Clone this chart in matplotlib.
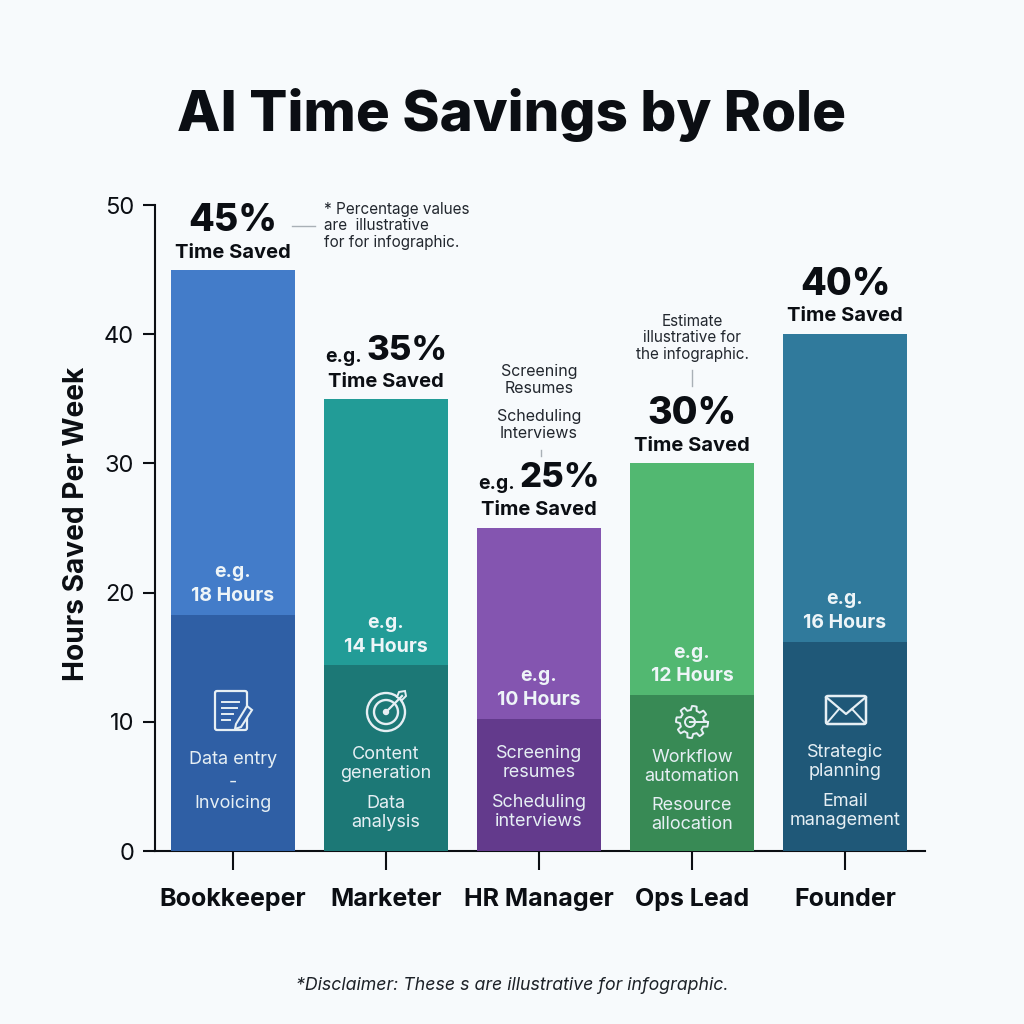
import numpy as np
import matplotlib
matplotlib.use("Agg")
import matplotlib.pyplot as plt
from matplotlib.patches import Circle, FancyBboxPatch, Polygon

# Data
roles = ["Bookkeeper", "Marketer", "HR Manager", "Ops Lead", "Founder"]
percent_saved = [45, 35, 25, 30, 40]
hours_saved = [18.3, 14.4, 10.2, 12.1, 16.2]
percent_labels = ["45%", "35%", "25%", "30%", "40%"]
hour_labels = ["18 Hours", "14 Hours", "10 Hours", "12 Hours", "16 Hours"]
tasks = [
    ["Data entry", "-", "Invoicing"],
    ["Content\ngeneration", "Data\nanalysis"],
    ["Screening\nresumes", "Scheduling\ninterviews"],
    ["Workflow\nautomation", "Resource\nallocation"],
    ["Strategic\nplanning", "Email\nmanagement"],
]
light_colors = ["#437cc9", "#229c97", "#8455b0", "#52b871", "#307a9c"]
dark_colors = ["#2f5fa5", "#1c7876", "#633a8c", "#388a55", "#1f5878"]
bg = "#f7fafc"
ink = "#0b0e13"
font = "Inter"

plt.rcParams["font.family"] = [font, "DejaVu Sans"]

fig = plt.figure(figsize=(10.24, 10.24), dpi=100, facecolor=bg)

# main axes placed on the pixel box of the reference
ax = fig.add_axes([155 / 1024, 1 - 851 / 1024, 770 / 1024, 646 / 1024], facecolor="none")
x = np.arange(len(roles))
bar_w = 124 / 153
ax.bar(x, percent_saved, width=bar_w, color=light_colors, linewidth=0, zorder=2)
ax.bar(x, hours_saved, width=bar_w, color=dark_colors, linewidth=0, zorder=3)
ax.set_xlim(-78 / 153, 692 / 153)
ax.set_ylim(0, 50)
ax.set_yticks([0, 10, 20, 30, 40, 50])
ax.set_xticks(x)
ax.set_xticklabels(roles, fontsize=18, fontweight="bold", color=ink, va="baseline")
ax.tick_params(axis="x", length=13.5, width=1.5, color=ink, direction="out", pad=26)
ax.tick_params(axis="y", length=8.6, width=1.5, color=ink, labelsize=17, labelcolor=ink, pad=6.5)
ax.spines["top"].set_visible(False)
ax.spines["right"].set_visible(False)
ax.spines["left"].set_linewidth(1.5)
ax.spines["bottom"].set_linewidth(1.5)
ax.spines["left"].set_color(ink)
ax.spines["bottom"].set_color(ink)
ax.set_ylabel("Hours Saved Per Week", fontsize=20.2, fontweight="bold", color=ink)
ax.yaxis.set_label_coords(-65 / 770, 0.506)

# overlay in reference pixels for the annotations and icons
ov = fig.add_axes([0, 0, 1, 1], facecolor="none", zorder=5)
ov.set_xlim(0, 1024)
ov.set_ylim(1024, 0)
ov.axis("off")

ov.text(512, 115, "AI Time Savings by Role", fontsize=40.7, fontweight="heavy", color=ink, ha="center", va="center")

centers = [233, 386, 539, 692, 845]
pct_y = [221, 351, 478, 414, 285]
sub_y = [253, 382, 510, 446, 316]
eg_prefix = [False, True, True, False, False]
for i, c in enumerate(centers):
    if eg_prefix[i]:
        ov.text(c + 21, pct_y[i], percent_labels[i], fontsize=25, fontweight="heavy", color=ink, ha="center", va="center")
        ov.text(c - 42, pct_y[i] + 6, "e.g.", fontsize=14, fontweight="bold", color=ink, ha="center", va="center")
    else:
        ov.text(c, pct_y[i], percent_labels[i], fontsize=27, fontweight="heavy", color=ink, ha="center", va="center")
    ov.text(c, sub_y[i], "Time Saved", fontsize=14.5, fontweight="bold", color=ink, ha="center", va="center")

eg_y = [572, 623, 676, 653, 599]
hr_y = [596, 647, 700, 676, 623]
for i, c in enumerate(centers):
    ov.text(c, eg_y[i], "e.g.", fontsize=14, fontweight="bold", color="#eef5f8", ha="center", va="center")
    ov.text(c, hr_y[i], hour_labels[i], fontsize=14, fontweight="bold", color="#eef5f8", ha="center", va="center")

# task text inside the dark part of each bar
task_y = [[760, 782, 803], [764, 813], [763, 812], [767, 815], [762, 811]]
for i, c in enumerate(centers):
    for t, y in zip(tasks[i], task_y[i]):
        ov.text(c, y, t, fontsize=13, color="#e6eff4", ha="center", va="center", linespacing=1.2)

# side notes
ov.text(324, 226, "* Percentage values\nare  illustrative\nfor for infographic.", fontsize=11, color="#22272e", ha="left", va="center", linespacing=1.15)
ov.plot([292, 315], [226, 226], color="#a9b0b6", lw=1)
ov.text(539, 380, "Screening\nResumes", fontsize=11.5, color="#22272e", ha="center", va="center", linespacing=1.15)
ov.text(539, 425, "Scheduling\nInterviews", fontsize=11.5, color="#22272e", ha="center", va="center", linespacing=1.15)
ov.plot([541, 541], [450, 456], color="#a9b0b6", lw=1)
ov.text(692, 338, "Estimate\nillustrative for\nthe infographic.", fontsize=11, color="#22272e", ha="center", va="center", linespacing=1.15)
ov.plot([692, 692], [370, 386], color="#a9b0b6", lw=1)

ov.text(512, 985, "*Disclaimer: These s are illustrative for infographic.", fontsize=12.75, style="italic", color="#1c2127", ha="center", va="center")

# icons
w = "#e6eff4"
# document with pencil
ov.add_patch(FancyBboxPatch((215, 691), 32, 39, boxstyle="round,pad=0,rounding_size=2", fc="none", ec=w, lw=1.6))
for yy, x0, x1 in [(702, 222, 239), (708, 222, 237), (714, 222, 233), (720, 222, 230)]:
    ov.plot([x0, x1], [yy, yy], color=w, lw=1.4)
ov.add_patch(Polygon([(236, 724), (247, 706), (252, 710), (241, 727), (235, 729)], closed=True, fc=dark_colors[0], ec=w, lw=1.5))
# target with arrow
for r in [19, 12]:
    ov.add_patch(Circle((386, 712), r, fc="none", ec=w, lw=1.7))
ov.add_patch(Circle((386, 712), 2.5, fc=w, ec=w, lw=1))
ov.plot([386, 402], [712, 696], color=w, lw=1.6)
ov.add_patch(Polygon([(399, 692), (405, 691), (406, 696), (402, 700), (397, 697)], closed=True, fc=dark_colors[1], ec=w, lw=1.4))
# gear
angles = np.linspace(0, 2 * np.pi, 65)
radii = np.where((np.arange(65) % 8) < 4, 16, 12)
ov.plot(692 + radii * np.cos(angles), 722 + radii * np.sin(angles), color=w, lw=1.4)
ov.add_patch(Circle((690, 722), 5, fc="none", ec=w, lw=1.4))
ov.plot([690, 706], [722, 722], color=w, lw=1.4)
# envelope
ov.add_patch(FancyBboxPatch((826, 696), 40, 28, boxstyle="round,pad=0,rounding_size=2", fc="none", ec=w, lw=1.8))
ov.plot([826, 846, 866], [697, 714, 697], color=w, lw=1.6)
ov.plot([827, 839], [723, 709], color=w, lw=1.4)
ov.plot([865, 852], [723, 709], color=w, lw=1.4)

fig.savefig("out.png", dpi=100, facecolor=bg)
